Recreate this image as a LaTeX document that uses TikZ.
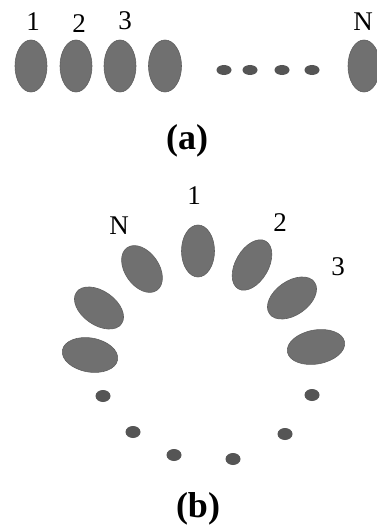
\documentclass[tikz,border=0pt]{standalone}
\usepackage{fontspec}
\setmainfont{Liberation Serif}
\usetikzlibrary{shapes.geometric}
\definecolor{blobGray}{HTML}{707070}
\definecolor{dotGray}{HTML}{555555}

\begin{document}
\begin{tikzpicture}[x=1pt, y=-1pt,
    blob/.style={ellipse, fill=blobGray, draw=blobGray!85!black, line width=0.6pt,
                 inner sep=0pt, minimum width=#1},
    blob/.default=33pt,
    tall/.style={minimum height=52pt},
    long/.style={minimum height=55pt},
    bead/.style={ellipse, fill=dotGray, inner sep=0pt,
                 minimum width=15pt, minimum height=11pt},
    num/.style={font=\fontsize{27}{30}\selectfont, inner sep=0pt},
    subcap/.style={font=\fontsize{36}{40}\selectfont\bfseries, inner sep=0pt},
  ]
    \useasboundingbox (0,0) rectangle (376,527);

    % (a) chain
    \node[blob=32pt, tall] (a1) at (31,66) {};
    \node[blob=32pt, tall] (a2) at (76,66) {};
    \node[blob=32pt, tall] (a3) at (120,66) {};
    \node[blob=33pt, tall] (a4) at (165,66) {};
    \node[bead, minimum height=10pt] (ad1) at (224,70) {};
    \node[bead, minimum height=10pt] (ad2) at (250,70) {};
    \node[bead, minimum height=10pt] (ad3) at (282,70) {};
    \node[bead, minimum height=10pt] (ad4) at (312,70) {};
    \node[blob=32pt, tall] (aN) at (364,66) {};

    \node[num] (la1) at (33,22) {1};
    \node[num] (la2) at (79,24) {2};
    \node[num] (la3) at (125,21) {3};
    \node[num] (laN) at (363,22) {N};
    \node[subcap] (capa) at (187,141) {(a)};

    % (b) ring
    \node[blob=33pt, tall] (b1) at (198,251) {};
    \node[blob=33pt, long, rotate=-30] (b2) at (252,265) {};
    \node[blob=34pt, long, rotate=-55] (b3) at (292,298) {};
    \node[blob=34pt, minimum height=58pt, rotate=-80] (b4) at (316,347) {};
    \node[blob=34pt, tall, rotate=35] (bN) at (142,269) {};
    \node[blob=34pt, long, rotate=55] (bN1) at (99,308) {};
    \node[blob=34pt, minimum height=56pt, rotate=80] (bN2) at (90,355) {};

    \node[bead, minimum height=12pt] (bd1) at (103,396) {};
    \node[bead, minimum height=12pt] (bd2) at (133,432) {};
    \node[bead, minimum height=12pt] (bd3) at (174,455) {};
    \node[bead, minimum height=12pt] (bd4) at (233,459) {};
    \node[bead, minimum height=12pt] (bd5) at (285,434) {};
    \node[bead, minimum height=12pt] (bd6) at (312,395) {};

    \node[num] (lb1) at (194,196) {1};
    \node[num] (lbN) at (119,226) {N};
    \node[num] (lb2) at (280,223) {2};
    \node[num] (lb3) at (338,267) {3};
    \node[subcap] (capb) at (198,509) {(b)};
  \end{tikzpicture}
\end{document}
